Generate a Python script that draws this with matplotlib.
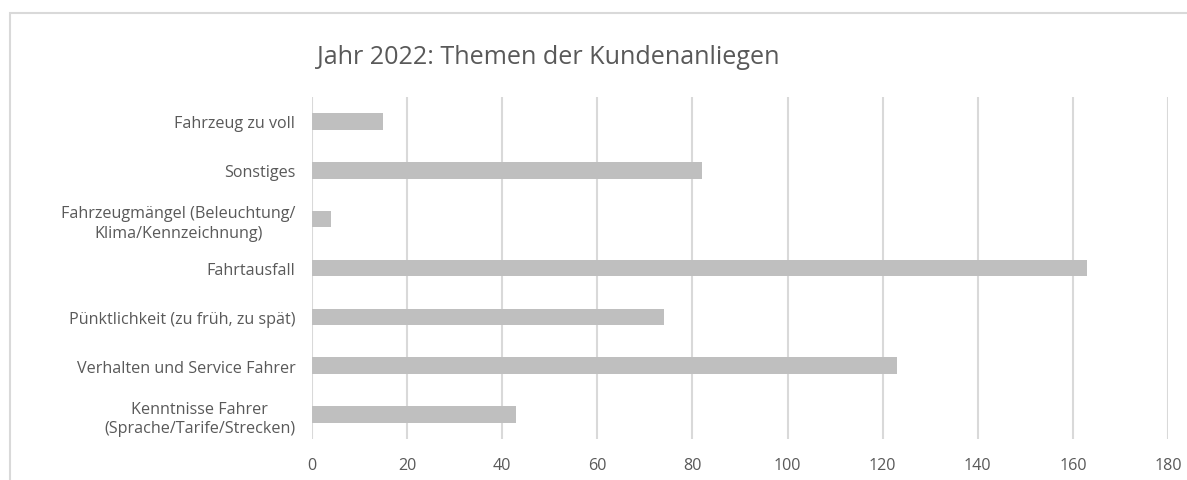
import matplotlib.pyplot as plt
from matplotlib.patches import Rectangle

# data (top to bottom as shown)
categories = ['Fahrzeug zu voll',
              'Sonstiges',
              'Fahrzeugmängel (Beleuchtung/\nKlima/Kennzeichnung)',
              'Fahrtausfall',
              'Pünktlichkeit (zu früh, zu spät)',
              'Verhalten und Service Fahrer',
              'Kenntnisse Fahrer\n(Sprache/Tarife/Strecken)']
values = [15, 82, 4, 163, 74, 123, 43]
xticks = [0, 20, 40, 60, 80, 100, 120, 140, 160, 180]

plt.rcParams['font.family'] = ['Open Sans', 'DejaVu Sans']
text_col = '#595959'

fig = plt.figure(figsize=(11.87, 4.81), dpi=100)
ax = fig.add_axes([312/1187, 1 - 440/481, (1168 - 312)/1187, (440 - 98)/481])

ypos = list(range(len(categories)))[::-1]
ax.barh(ypos, values, height=0.34, color='#BFBFBF', zorder=3)

ax.set_xlim(0, 180)
ax.set_ylim(-0.5, len(categories) - 0.5)
ax.set_xticks(xticks)
ax.set_xticklabels([str(t) for t in xticks])
ax.set_yticks(ypos)
ax.set_yticklabels(categories, multialignment='center', linespacing=1.3)
ax.tick_params(length=0, colors=text_col, labelsize=11.6)
ax.tick_params(axis='x', pad=13)
ax.tick_params(axis='y', pad=12)
ax.grid(axis='x', color='#D9D9D9', linewidth=1.5, zorder=0)
for s in ax.spines.values():
    s.set_visible(False)

fig.text(548/1187, 1 - 58/481, 'Jahr 2022: Themen der Kundenanliegen',
         ha='center', va='center', fontsize=18.1, color=text_col)

# chart area border (cropped at right and bottom)
fig.patches.append(Rectangle((10/1187, -0.1), 1.2, 1.1 - 14/481,
                             transform=fig.transFigure, fill=False,
                             edgecolor='#D9D9D9', linewidth=1.5))

fig.savefig('out.png', dpi=100)
